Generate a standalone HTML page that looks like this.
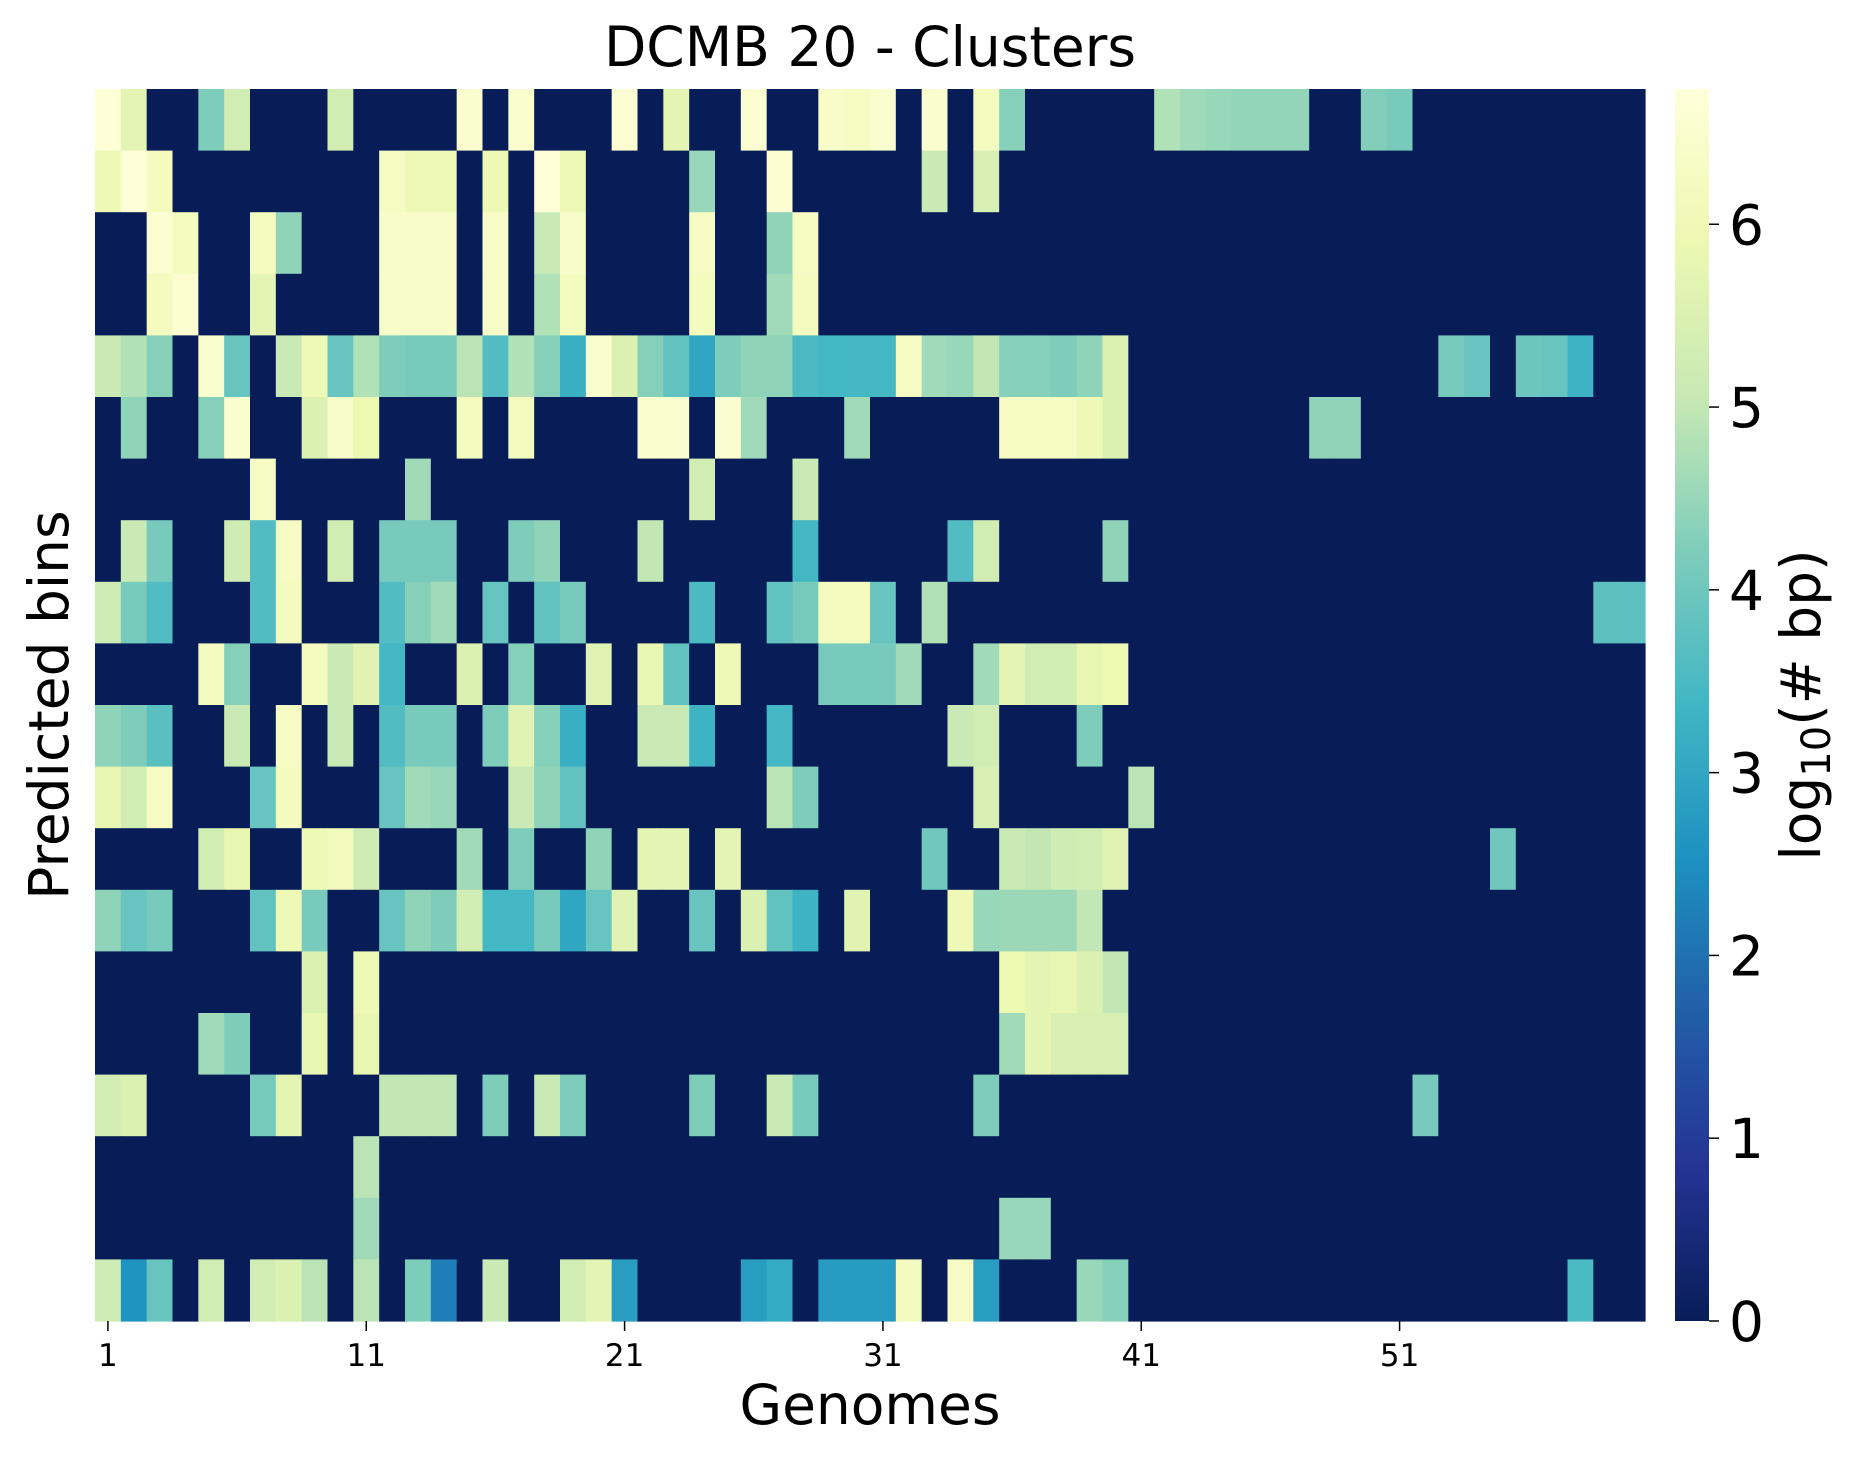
<!DOCTYPE html>
<html><head><meta charset="utf-8"><style>
html,body{margin:0;padding:0;background:#fff;}
svg{display:block;font-family:"DejaVu Sans","Liberation Sans",sans-serif;}
</style></head><body>
<svg id="chart" width="1852" height="1459" viewBox="0 0 1852 1459" xmlns="http://www.w3.org/2000/svg">
<defs><linearGradient id="cbgrad" x1="0" y1="1" x2="0" y2="0"></linearGradient></defs>
<rect x="0" y="0" width="1852" height="1459" fill="#fff"/>
<text x="870" y="66" font-size="55" text-anchor="middle">DCMB 20 - Clusters</text>
<g id="cells"></g>
<g id="xticks"></g>
<text x="870" y="1424" font-size="55" text-anchor="middle">Genomes</text>
<text transform="translate(68,705) rotate(-90)" font-size="55" text-anchor="middle">Predicted bins</text>
<rect x="1675" y="89" width="34" height="1232" fill="url(#cbgrad)"/>
<g id="cbticks"></g>
<text transform="translate(1820,705) rotate(-90)" font-size="55" text-anchor="middle">log<tspan font-size="40" dy="10">10</tspan><tspan dy="-10">(# bp)</tspan></text>
</svg>
<script>
const NS="http://www.w3.org/2000/svg";
const xTickLabels=["1","11","21","31","41","51"];
const xTickIndex=[1,11,21,31,41,51];
const cbTickValues=[0,1,2,3,4,5,6];
const vmin=0, vmax=6.74;
const row1=[6.7,5.7,0,0,4.2,5.3,0,0,0,5.3,0,0,0,0,6.5,0,6.5,0,0,0, 6.6,0,5.7,0,0,6.6,0,0,6.4,6.3,6.5,0,6.5,0,6.2,4.3,0,0,0,0, 0,4.8,4.6,4.5,4.45,4.45,4.45,0,0,4.25,4.1,0,0,0,0,0,0,0,0,0];
const row2=[6.0,6.7,6.2,0,0,0,0,0,0,0,0,6.3,6.0,6.0,0,6.0,0,6.7,6.0,0, 0,0,0,4.5,0,0,6.6,0,0,0,0,0,5.1,0,5.4,0,0,0,0,0, 0,0,0,0,0,0,0,0,0,0,0,0,0,0,0,0,0,0,0,0];
const row3=[0,0,6.6,6.2,0,0,6.2,4.4,0,0,0,6.4,6.4,6.4,0,6.4,0,5.1,6.4,0, 0,0,0,6.3,0,0,4.4,6.3,0,0,0,0,0,0,0,0,0,0,0,0, 0,0,0,0,0,0,0,0,0,0,0,0,0,0,0,0,0,0,0,0];
const row4=[0,0,6.2,6.6,0,0,5.7,0,0,0,0,6.4,6.4,6.4,0,6.4,0,4.8,6.2,0, 0,0,0,6.2,0,0,4.6,6.2,0,0,0,0,0,0,0,0,0,0,0,0, 0,0,0,0,0,0,0,0,0,0,0,0,0,0,0,0,0,0,0,0];
const row5=[5.1,4.8,4.3,0,6.5,3.9,0,5.1,6.0,3.9,4.8,4.2,4.1,4.1,4.9,3.6,4.8,4.3,3.2,6.5, 5.5,4.3,3.8,3.0,4.2,4.4,4.4,3.5,3.4,3.4,3.4,6.3,4.6,4.5,5.0,4.3,4.3,4.2,4.4,5.5, 0,0,0,0,0,0,0,0,0,0,0,0,4.1,3.9,0,3.95,3.9,3.3,0,0];
const row6=[0,4.4,0,0,4.3,6.5,0,0,5.5,6.4,5.9,0,0,0,6.2,0,6.2,0,0,0, 0,6.5,6.5,0,6.5,4.6,0,0,0,4.6,0,0,0,0,0,6.3,6.3,6.3,6.0,5.5, 0,0,0,0,0,0,0,4.4,4.4,0,0,0,0,0,0,0,0,0,0,0];
const row7=[0,0,0,0,0,0,6.3,0,0,0,0,0,4.6,0,0,0,0,0,0,0, 0,0,0,5.3,0,0,0,5.1,0,0,0,0,0,0,0,0,0,0,0,0, 0,0,0,0,0,0,0,0,0,0,0,0,0,0,0,0,0,0,0,0];
const row8=[0,5.1,4.1,0,0,5.2,3.6,6.3,0,5.3,0,4.1,4.1,4.1,0,0,4.2,4.4,0,0, 0,5.0,0,0,0,0,0,3.4,0,0,0,0,0,3.6,5.3,0,0,0,0,4.4, 0,0,0,0,0,0,0,0,0,0,0,0,0,0,0,0,0,0,0,0];
const row9=[5.2,4.1,3.6,0,0,0,3.6,6.2,0,0,0,3.6,4.3,4.6,0,3.9,0,3.8,4.1,0, 0,0,0,3.5,0,0,3.8,4.1,6.2,6.2,3.9,0,4.8,0,0,0,0,0,0,0, 0,0,0,0,0,0,0,0,0,0,0,0,0,0,0,0,0,0,3.75,3.75];
const row10=[0,0,0,0,6.2,4.3,0,0,6.2,5.1,5.6,3.4,0,0,5.5,0,4.3,0,0,5.6, 0,5.8,3.8,0,6.0,0,0,0,4.1,4.1,4.1,4.6,0,0,4.6,5.7,5.3,5.3,5.8,5.9, 0,0,0,0,0,0,0,0,0,0,0,0,0,0,0,0,0,0,0,0];
const row11=[4.4,4.2,3.7,0,0,5.1,0,6.3,0,5.1,0,3.6,4.1,4.1,0,4.2,5.6,4.3,3.2,0, 0,5.1,5.1,3.3,0,0,3.4,0,0,0,0,0,0,5.1,5.3,0,0,0,4.2,0, 0,0,0,0,0,0,0,0,0,0,0,0,0,0,0,0,0,0,0,0];
const row12=[5.8,5.3,6.3,0,0,0,3.9,6.2,0,0,0,3.9,4.6,4.5,0,0,5.1,4.4,3.8,0, 0,0,0,0,0,0,4.9,4.2,0,0,0,0,0,0,5.4,0,0,0,0,0, 4.9,0,0,0,0,0,0,0,0,0,0,0,0,0,0,0,0,0,0,0];
const row13=[0,0,0,0,5.3,5.8,0,0,6.0,6.1,5.2,0,0,0,4.6,0,4.2,0,0,4.4, 0,5.7,5.7,0,5.7,0,0,0,0,0,0,0,4.0,0,0,5.1,5.0,5.2,5.3,5.6, 0,0,0,0,0,0,0,0,0,0,0,0,0,0,4.0,0,0,0,0,0];
const row14=[4.4,3.9,4.1,0,0,0,3.8,6.0,4.1,0,0,3.9,4.4,4.2,5.3,3.4,3.4,4.1,3.0,3.9, 5.6,0,0,3.9,0,5.5,3.8,3.3,0,5.6,0,0,0,6.0,4.5,4.55,4.55,4.55,5.0,0, 0,0,0,0,0,0,0,0,0,0,0,0,0,0,0,0,0,0,0,0];
const row15=[0,0,0,0,0,0,0,0,5.5,0,6.0,0,0,0,0,0,0,0,0,0, 0,0,0,0,0,0,0,0,0,0,0,0,0,0,0,5.9,5.7,5.8,5.5,5.0, 0,0,0,0,0,0,0,0,0,0,0,0,0,0,0,0,0,0,0,0];
const row16=[0,0,0,0,4.6,4.2,0,0,5.8,0,5.8,0,0,0,0,0,0,0,0,0, 0,0,0,0,0,0,0,0,0,0,0,0,0,0,0,4.6,5.7,5.4,5.4,5.4, 0,0,0,0,0,0,0,0,0,0,0,0,0,0,0,0,0,0,0,0];
const row17=[5.3,5.5,0,0,0,0,4.1,5.7,0,0,0,5.0,5.0,5.0,0,4.2,0,5.1,4.2,0, 0,0,0,4.2,0,0,5.1,4.1,0,0,0,0,0,0,4.2,0,0,0,0,0, 0,0,0,0,0,0,0,0,0,0,0,4.1,0,0,0,0,0,0,0,0];
const row18=[0,0,0,0,0,0,0,0,0,0,4.9,0,0,0,0,0,0,0,0,0, 0,0,0,0,0,0,0,0,0,0,0,0,0,0,0,0,0,0,0,0, 0,0,0,0,0,0,0,0,0,0,0,0,0,0,0,0,0,0,0,0];
const row19=[0,0,0,0,0,0,0,0,0,0,4.6,0,0,0,0,0,0,0,0,0, 0,0,0,0,0,0,0,0,0,0,0,0,0,0,0,4.5,4.5,0,0,0, 0,0,0,0,0,0,0,0,0,0,0,0,0,0,0,0,0,0,0,0];
const row20=[5.2,2.6,3.9,0,5.3,0,5.3,5.5,4.9,0,4.9,0,4.2,2.2,0,5.1,0,0,5.3,5.7, 2.8,0,0,0,0,2.8,3.1,0,2.75,2.75,2.75,6.2,0,6.3,2.8,0,0,0,4.5,4.3, 0,0,0,0,0,0,0,0,0,0,0,0,0,0,0,0,0,3.5,0,0];
const rows=[row1,row2,row3,row4,row5,row6,row7,row8,row9,row10,row11,row12,row13,row14,row15,row16,row17,row18,row19,row20];

const PL=95,PT=89,PR=1645,PB=1321;
const nCols=row1.length, nRows=rows.length;
const cw=(PR-PL)/nCols, rh=(PB-PT)/nRows;
function xScale(i){return PL+i*cw;}
function yScale(j){return PT+j*rh;}
const cbTop=89,cbBot=1321;
function cbScale(v){return cbBot-(v-vmin)/(vmax-vmin)*(cbBot-cbTop);}
const stops=["#ffffd9","#edf8b1","#c7e9b4","#7fcdbb","#41b6c4","#1d91c0","#225ea8","#253494","#081d58"];
function hex(c){return [parseInt(c.slice(1,3),16),parseInt(c.slice(3,5),16),parseInt(c.slice(5,7),16)];}
function cmap(v){
  let t=(v-vmin)/(vmax-vmin); t=Math.max(0,Math.min(1,t));
  let u=(1-t)*(stops.length-1); let i=Math.min(Math.floor(u),stops.length-2); let f=u-i;
  const a=hex(stops[i]),b=hex(stops[i+1]);
  return "rgb("+a.map((x,k)=>Math.round(x+(b[k]-x)*f)).join(",")+")";
}
const cells=document.getElementById("cells");
rows.forEach((r,j)=>{r.forEach((v,i)=>{
  const el=document.createElementNS(NS,"rect");
  el.setAttribute("x",xScale(i).toFixed(2));
  el.setAttribute("y",yScale(j).toFixed(2));
  el.setAttribute("width",(cw+0.6).toFixed(2));
  el.setAttribute("height",(rh+0.6).toFixed(2));
  el.setAttribute("fill",cmap(v));
  
  
  cells.appendChild(el);
});});
const xt=document.getElementById("xticks");
xTickIndex.forEach((c,k)=>{
  const x=xScale(c-0.5);
  const ln=document.createElementNS(NS,"line");
  ln.setAttribute("x1",x);ln.setAttribute("x2",x);ln.setAttribute("y1",PB);ln.setAttribute("y2",PB+10);
  ln.setAttribute("stroke","#000");ln.setAttribute("stroke-width","1.5");
  
  
  xt.appendChild(ln);
  const tx=document.createElementNS(NS,"text");
  tx.setAttribute("x",x);tx.setAttribute("y",1366);tx.setAttribute("font-size","31");tx.setAttribute("text-anchor","middle");
  tx.textContent=xTickLabels[k];
  
  
  xt.appendChild(tx);
});
const grad=document.getElementById("cbgrad");
for(let k=0;k<=40;k++){
  const s=document.createElementNS(NS,"stop");
  s.setAttribute("offset",(k/40));
  s.setAttribute("stop-color",cmap(vmin+(vmax-vmin)*k/40));
  grad.appendChild(s);
}
const cbt=document.getElementById("cbticks");
cbTickValues.forEach(v=>{
  const y=cbScale(v);
  const ln=document.createElementNS(NS,"line");
  ln.setAttribute("x1",1709);ln.setAttribute("x2",1719);ln.setAttribute("y1",y);ln.setAttribute("y2",y);
  ln.setAttribute("stroke","#000");ln.setAttribute("stroke-width","1.5");
  
  
  cbt.appendChild(ln);
  const tx=document.createElementNS(NS,"text");
  tx.setAttribute("x",1729);tx.setAttribute("y",y+20);tx.setAttribute("font-size","55");
  tx.textContent=String(v);
  
  
  cbt.appendChild(tx);
});
</script>
</body></html>
